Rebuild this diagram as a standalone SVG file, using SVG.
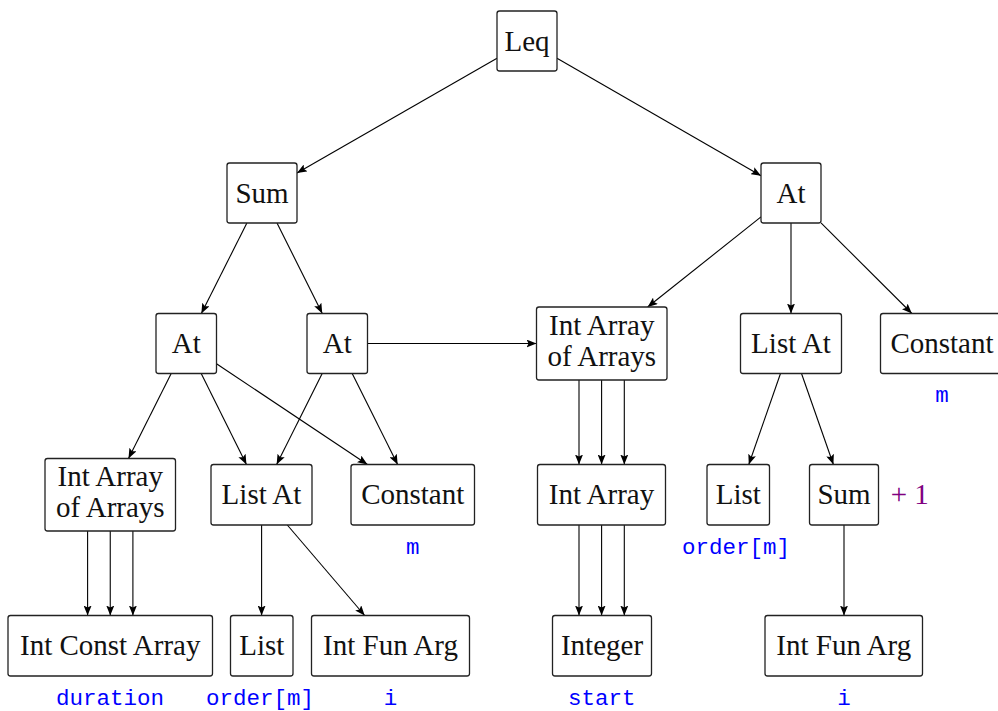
<svg xmlns="http://www.w3.org/2000/svg" width="998" height="711" viewBox="0 0 998 711">
<defs>
<marker id="arr" markerUnits="userSpaceOnUse" viewBox="0 0 10 8" refX="10" refY="4" markerWidth="10" markerHeight="8" orient="auto">
<path d="M0,0 L10,4 L0,8 L2,4 Z" fill="#000"/>
</marker>
<style>
.box{fill:#fff;stroke:#222;stroke-width:1.3}
.t{font-family:"Liberation Serif","DejaVu Serif",serif;font-size:29px;fill:#111;text-anchor:middle}
.lbl{font-family:"Liberation Mono","DejaVu Sans Mono",monospace;font-size:22.5px;fill:#0000ff;text-anchor:middle}
.plus{font-family:"Liberation Serif","DejaVu Serif",serif;font-size:29px;fill:#800080}
.e{stroke:#000;stroke-width:1.1;fill:none;marker-end:url(#arr)}
</style>
</defs>
<rect width="998" height="711" fill="#fff"/>
<g id="connectors">
<line class="e" x1="497" y1="58.2" x2="297" y2="172.9"/>
<line class="e" x1="557" y1="58.3" x2="761" y2="175.7"/>
<line class="e" x1="246.9" y1="223" x2="201.35" y2="313.5"/>
<line class="e" x1="277" y1="223" x2="322.25" y2="313.5"/>
<line class="e" x1="761" y1="216.9" x2="647.65" y2="307"/>
<line class="e" x1="791" y1="223" x2="791" y2="313.5"/>
<line class="e" x1="821" y1="222.9" x2="911.9" y2="313.5"/>
<line class="e" x1="171.2" y1="373.5" x2="128.5" y2="458.5"/>
<line class="e" x1="201.2" y1="373.5" x2="246.45" y2="464.5"/>
<line class="e" x1="216.5" y1="363.7" x2="367.45" y2="464.5"/>
<line class="e" x1="322.2" y1="373.5" x2="276.65" y2="464.5"/>
<line class="e" x1="352.2" y1="373.5" x2="397.65" y2="464.5"/>
<line class="e" x1="367.5" y1="343.5" x2="536.5" y2="343.5"/>
<line class="e" x1="87.6" y1="531" x2="87.6" y2="615.5"/>
<line class="e" x1="110.25" y1="531" x2="110.25" y2="615.5"/>
<line class="e" x1="132.9" y1="531" x2="132.9" y2="615.5"/>
<line class="e" x1="261.6" y1="525" x2="261.6" y2="615.5"/>
<line class="e" x1="287.3" y1="525" x2="364.7" y2="615.5"/>
<line class="e" x1="579" y1="380" x2="579" y2="464.5"/>
<line class="e" x1="601.6" y1="380" x2="601.6" y2="464.5"/>
<line class="e" x1="624.3" y1="380" x2="624.3" y2="464.5"/>
<line class="e" x1="579" y1="525" x2="579" y2="615.5"/>
<line class="e" x1="601.6" y1="525" x2="601.6" y2="615.5"/>
<line class="e" x1="624.3" y1="525" x2="624.3" y2="615.5"/>
<line class="e" x1="780.5" y1="373.5" x2="748.8" y2="464.5"/>
<line class="e" x1="801.5" y1="373.5" x2="833.4" y2="464.5"/>
<line class="e" x1="844" y1="525" x2="844" y2="615.5"/>
</g>
<g id="leq"><rect class="box" x="497" y="11" width="60" height="60" rx="2.5"/><text class="t" x="527" y="50.5">Leq</text></g>
<g id="sum1"><rect class="box" x="227" y="163" width="70" height="60" rx="2.5"/><text class="t" x="262" y="202.5">Sum</text></g>
<g id="attop"><rect class="box" x="761" y="163" width="60" height="60" rx="2.5"/><text class="t" x="791" y="202.5">At</text></g>
<g id="at1"><rect class="box" x="156" y="313.5" width="60.5" height="60" rx="2.5"/><text class="t" x="186.25" y="353">At</text></g>
<g id="at2"><rect class="box" x="307" y="313.5" width="60.5" height="60" rx="2.5"/><text class="t" x="337.25" y="353">At</text></g>
<g id="iaoa1"><rect class="box" x="536.5" y="307" width="130.5" height="73" rx="2.5"/><text class="t" x="601.75" y="334.5">Int Array</text><text class="t" x="601.75" y="365.5">of Arrays</text></g>
<g id="listat1"><rect class="box" x="740.5" y="313.5" width="101" height="60" rx="2.5"/><text class="t" x="791" y="353">List At</text></g>
<g id="const1"><rect class="box" x="880.5" y="313.5" width="123" height="60" rx="2.5"/><text class="t" x="942" y="353">Constant</text></g>
<g id="iaoa2"><rect class="box" x="45" y="458.5" width="130.5" height="72.5" rx="2.5"/><text class="t" x="110.25" y="485.5">Int Array</text><text class="t" x="110.25" y="516.5">of Arrays</text></g>
<g id="listat2"><rect class="box" x="211" y="464.5" width="101" height="60.5" rx="2.5"/><text class="t" x="261.5" y="504">List At</text></g>
<g id="const2"><rect class="box" x="351" y="464.5" width="123.5" height="60.5" rx="2.5"/><text class="t" x="412.75" y="504">Constant</text></g>
<g id="intarray"><rect class="box" x="537.5" y="464.5" width="128" height="60.5" rx="2.5"/><text class="t" x="601.5" y="504">Int Array</text></g>
<g id="list1"><rect class="box" x="707" y="464.5" width="62.5" height="60.5" rx="2.5"/><text class="t" x="738.25" y="504">List</text></g>
<g id="sum2"><rect class="box" x="809.5" y="464.5" width="69" height="60.5" rx="2.5"/><text class="t" x="844" y="504">Sum</text></g>
<g id="ica"><rect class="box" x="8" y="615.5" width="204.5" height="60.5" rx="2.5"/><text class="t" x="110.25" y="655">Int Const Array</text></g>
<g id="list2"><rect class="box" x="230.5" y="615.5" width="62.5" height="60.5" rx="2.5"/><text class="t" x="261.75" y="655">List</text></g>
<g id="ifa1"><rect class="box" x="311.5" y="615.5" width="158" height="60.5" rx="2.5"/><text class="t" x="390.5" y="655">Int Fun Arg</text></g>
<g id="integer"><rect class="box" x="552.5" y="615.5" width="99" height="60.5" rx="2.5"/><text class="t" x="602" y="655">Integer</text></g>
<g id="ifa2"><rect class="box" x="765" y="615.5" width="157.5" height="60.5" rx="2.5"/><text class="t" x="843.75" y="655">Int Fun Arg</text></g>
<g id="labels">
<text class="lbl" x="942" y="401.5">m</text>
<text class="lbl" x="412.75" y="553.5">m</text>
<text class="lbl" x="736" y="554">order[m]</text>
<text class="plus" x="890.7" y="503.5">+ 1</text>
<text class="lbl" x="110" y="704.5">duration</text>
<text class="lbl" x="260" y="704.5">order[m]</text>
<text class="lbl" x="390.5" y="704.5">i</text>
<text class="lbl" x="601.7" y="704.5">start</text>
<text class="lbl" x="844" y="704.5">i</text>
</g>
</svg>
